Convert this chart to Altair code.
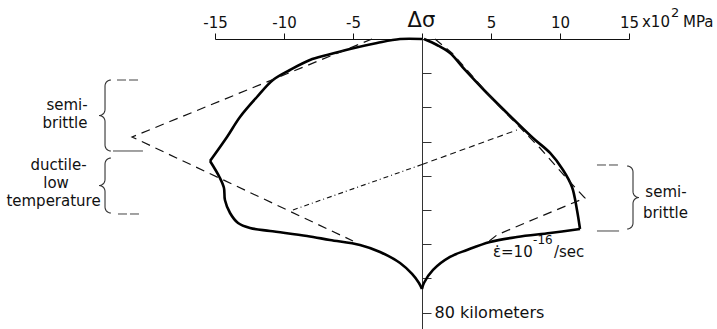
import math
import altair as alt
import pandas as pd

FONT = "DejaVu Sans"
INK = "#111111"

# Strength envelope for strain rate 1e-16/s: differential stress (x10^2 MPa) vs depth (km)
env_stress = [0.0, -1.59, -3.26, -5.22, -6.88, -8.12, -9.57, -10.80, -11.96, -13.19, -14.13, -15.36,
              -14.64, -14.35, -14.28, -13.91, -13.33, -12.46, -11.01, -8.33, -6.67, -4.49, -3.04,
              -1.59, -0.72, -0.22, 0.0, 0.14, 0.80, 2.03, 3.26, 4.93, 6.88, 9.28, 11.45, 11.23,
              10.87, 10.22, 9.28, 8.04, 6.16, 4.49, 3.12, 2.03, 1.09, 0.14]
env_depth = [0.0, 0.0, 1.17, 2.92, 4.68, 6.14, 9.06, 11.99, 16.96, 22.81, 28.65, 35.67,
             40.64, 43.57, 47.08, 50.88, 53.80, 55.26, 56.14, 57.60, 58.77, 60.23, 62.28,
             65.50, 68.71, 71.35, 73.1, 71.35, 67.54, 63.74, 61.70, 59.36, 57.89, 56.73, 55.56, 50.0,
             43.27, 38.30, 33.33, 28.95, 21.64, 14.91, 9.06, 4.09, 1.75, 0.0]
# Indices of the sharp corners of the envelope (left corner, cusp at the base, right corner)
env_corners = [11, 26, 34]

# Simplified (dashed) envelope: compression and extension branches
dash_left_stress = [-3.62, -21.01, -5.0]
dash_left_depth = [0.0, 28.65, 59.06]
dash_right_stress = [0.94, 2.17, 5.43, 8.55, 10.72, 11.81, 8.33, 5.43, 4.78]
dash_right_depth = [0.0, 4.09, 19.0, 31.87, 41.81, 46.49, 52.34, 57.31, 59.36]

# Dotted line across the envelope
dot_stress = [-9.35, 0.0, 6.88]
dot_depth = [50.0, 36.7, 26.61]

# Braces marking depth ranges: centre-line stress position, top and bottom depth, tip direction
brace_x = [-22.97, -22.97, 15.29]
brace_top = [11.99, 34.80, 37.13]
brace_bottom = [32.75, 50.88, 55.56]
brace_side = [-1, -1, 1]

# Short horizontal marks at the brace ends
mark_x1 = [-22.10, -22.39, -22.03, 12.68, 12.68]
mark_x2 = [-20.43, -20.22, -20.43, 14.20, 14.28]
mark_depth = [11.99, 32.75, 51.17, 36.84, 56.14]
mark_dashed = [True, False, True, True, False]

# Zone labels
zone_text = ["semi-", "brittle", "ductile-", "low", "temperature", "semi-", "brittle"]
zone_x = [-25.72, -25.87, -26.34, -26.52, -26.70, 17.68, 17.64]
zone_depth = [20.76, 26.02, 38.30, 43.57, 48.83, 46.2, 52.34]

x_ticks = [-15, -10, -5, 0, 5, 10, 15]
depth_ticks = [0, 10, 20, 30, 40, 50, 60, 70, 80]


def brace_points(x0, top, bottom, side, w=0.43, r=1.75, n=8):
    mid = (top + bottom) / 2.0
    pts = []
    for k in range(n + 1):
        t = k / n * math.pi / 2
        pts.append((x0 - side * w * (1 - math.sin(t)), top + r * (1 - math.cos(t))))
    for k in range(n + 1):
        t = k / n * math.pi / 2
        pts.append((x0 + side * w * (1 - math.cos(t)), mid - r + r * math.sin(t)))
    for k in range(n + 1):
        t = k / n * math.pi / 2
        pts.append((x0 + side * w * (1 - math.sin(t)), mid + r * (1 - math.cos(t))))
    for k in range(n + 1):
        t = k / n * math.pi / 2
        pts.append((x0 - side * w * (1 - math.cos(t)), bottom - r + r * math.sin(t)))
    return pts


# Split the envelope at its corners so each smooth piece is interpolated on its own
bounds = [0] + env_corners + [len(env_stress) - 1]
env_rows = []
for seg in range(len(bounds) - 1):
    for j, k in enumerate(range(bounds[seg], bounds[seg + 1] + 1)):
        env_rows.append({"s": env_stress[k], "d": env_depth[k], "g": seg, "i": j})
env_df = pd.DataFrame(env_rows)

dash_df = pd.DataFrame({
    "s": dash_left_stress + dash_right_stress,
    "d": dash_left_depth + dash_right_depth,
    "g": ["L"] * len(dash_left_stress) + ["R"] * len(dash_right_stress),
    "i": list(range(len(dash_left_stress))) + list(range(len(dash_right_stress))),
})
dot_a = pd.DataFrame({"s": dot_stress[:2], "d": dot_depth[:2], "i": [0, 1]})
dot_b = pd.DataFrame({"s": dot_stress[1:], "d": dot_depth[1:], "i": [0, 1]})

rows = []
for b, (x0, tp, bt, sd) in enumerate(zip(brace_x, brace_top, brace_bottom, brace_side)):
    for j, (px, py) in enumerate(brace_points(x0, tp, bt, sd)):
        rows.append({"s": px, "d": py, "g": b, "i": j})
brace_df = pd.DataFrame(rows)

marks_df = pd.DataFrame({"s": mark_x1, "s2": mark_x2, "d": mark_depth, "dashed": mark_dashed})
zone_df = pd.DataFrame({"s": zone_x, "d": zone_depth, "t": zone_text})

top_axis = alt.Axis(
    orient="top", values=x_ticks, title=None, grid=False,
    tickSize=6, tickColor=INK, domainColor=INK, domainWidth=1, tickWidth=1,
    labelFont=FONT, labelFontSize=15, labelColor=INK, labelPadding=6,
    labelBaseline="alphabetic", labelFlush=False, labelOverlap=False,
    labelExpr="datum.value == 0 ? '' : (datum.value < 0 ? '-' + abs(datum.value) : '' + datum.value)",
)
depth_axis = alt.Axis(
    orient="right", offset=-207, values=depth_ticks, title=None, grid=False,
    tickSize=9, tickColor="#333333", domainColor="#333333", domainWidth=1, tickWidth=1,
    labelFont=FONT, labelFontSize=16, labelColor=INK, labelPadding=3,
    labelBaseline="middle", labelFlush=False, labelOverlap=False,
    labelExpr="datum.value == 80 ? '80 kilometers' : ''",
)

X = alt.X("s:Q", scale=alt.Scale(domain=[-15, 15], nice=False, zero=False), axis=top_axis)
Y = alt.Y("d:Q", scale=alt.Scale(domain=[0, 84.8], reverse=True, nice=False, zero=False), axis=depth_axis)

envelope = alt.Chart(env_df).mark_line(
    color="black", strokeWidth=2.6, strokeJoin="round", interpolate="catmull-rom"
).encode(x=X, y=Y, detail="g:N", order="i:Q")
dashed = alt.Chart(dash_df).mark_line(color=INK, strokeWidth=1.2, strokeDash=[9, 6]).encode(
    x=X, y=Y, detail="g:N", order="i:Q")
dotted_a = alt.Chart(dot_a).mark_line(color=INK, strokeWidth=1.1, strokeDash=[5, 3, 1, 3]).encode(
    x=X, y=Y, order="i:Q")
dotted_b = alt.Chart(dot_b).mark_line(color=INK, strokeWidth=1.1, strokeDash=[6, 4]).encode(
    x=X, y=Y, order="i:Q")
braces = alt.Chart(brace_df).mark_line(color="#333333", strokeWidth=1.1).encode(
    x=X, y=Y, detail="g:N", order="i:Q")
end_solid = alt.Chart(marks_df[~marks_df["dashed"]]).mark_rule(color="#444444", strokeWidth=1).encode(
    x=X, x2="s2:Q", y=Y)
end_dashed = alt.Chart(marks_df[marks_df["dashed"]]).mark_rule(
    color="#444444", strokeWidth=1, strokeDash=[9, 3]).encode(x=X, x2="s2:Q", y=Y)

zones = alt.Chart(zone_df).mark_text(
    align="center", baseline="alphabetic", font=FONT, fontSize=15, color=INK).encode(x=X, y=Y, text="t:N")


def label(texts, xs, ds, size, align="left"):
    df = pd.DataFrame({"s": xs, "d": ds, "t": texts})
    return alt.Chart(df).mark_text(
        align=align, baseline="alphabetic", font=FONT, fontSize=size, color=INK
    ).encode(x=X, y=Y, text="t:N")


delta = label(["Δσ"], [-0.04], [-3.51], 21, align="center")
units = label(["x10", "MPa"], [15.94, 18.91], [-3.51, -3.51], 15)
units_sup = label(["2"], [18.05], [-6.43], 13)
rate = label(["ε̇=10", "/sec"], [5.14, 9.56], [63.74, 63.74], 15)
rate_sup = label(["-16"], [8.05], [60.0], 12)

chart = alt.layer(
    envelope, dashed, dotted_a, dotted_b, braces, end_solid, end_dashed,
    zones, delta, units, units_sup, rate, rate_sup,
).properties(
    width=414, height=290,
    padding={"left": 215, "top": 39, "right": 88, "bottom": 0},
    autosize=alt.AutoSizeParams(type="none"),
    background="white",
).configure_view(stroke=None)

chart.save("out.html", embed_options={"renderer": "svg", "actions": False})
